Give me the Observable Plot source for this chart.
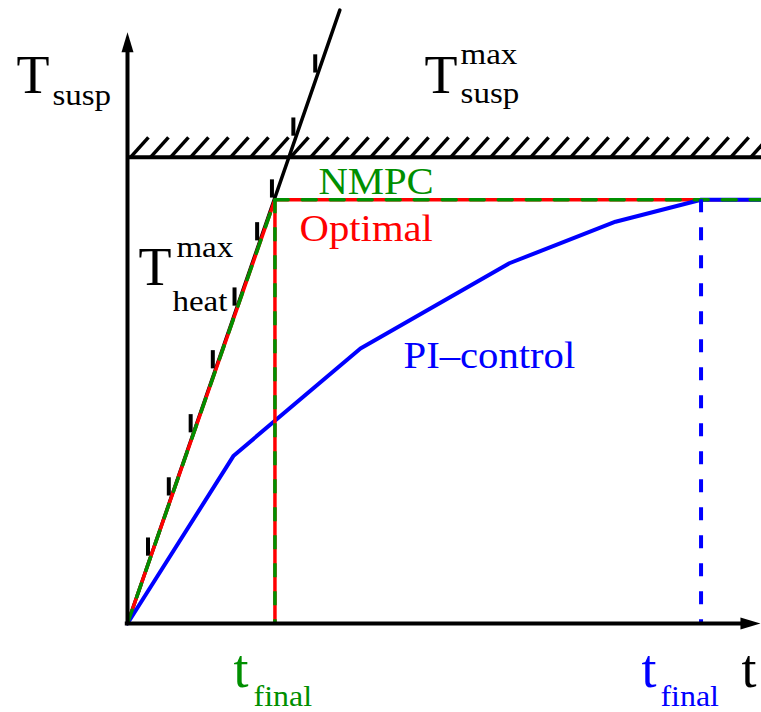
<!DOCTYPE html>
<html>
<head>
<meta charset="utf-8">
<script src="https://cdn.jsdelivr.net/npm/d3@7"></script>
<script src="https://cdn.jsdelivr.net/npm/@observablehq/plot@0.6"></script>
<style>
  body { margin: 0; background: #fff; }
</style>
</head>
<body>
<div id="chart"></div>
<script>
// Time (arbitrary units) and suspension temperature (relative units)
const tEnd = 43;
const tFinalNMPC = 10;
const tFinalPI = 38.9;
const tempTarget = 100;
const tempSuspMax = 110;
const heatRate = 10.05;        // slope of the maximum heating limit T_heat^max
const heatLineEnd = 14.4;

// NMPC and optimal trajectories coincide
const nmpcTimes = [0, tFinalNMPC, tEnd];
const nmpcTemps = [0, tempTarget, tempTarget];

// PI-control trajectory
const piTimes = [0, 7.2, 15.8, 25.9, 33.1, tFinalPI, tEnd];
const piTemps = [0, 39.6, 64.9, 85.0, 94.8, tempTarget, tempTarget];

// Marks along the heating limit (temperature where each mark meets the line)
const heatMarkTemps = [16.0, 30.2, 45.1, 60.2, 75.0, 90.4, 100.5, 115.1, 130.0];

const nmpc = nmpcTimes.map((t, i) => ({t, temp: nmpcTemps[i]}));
const pi = piTimes.map((t, i) => ({t, temp: piTemps[i]}));
const heatLine = [0, heatLineEnd].map(t => ({t, temp: heatRate * t}));

const ink = "#000";
const green = "#008f00";
const serif = "Liberation Serif, Times New Roman, serif";

// filled arrowhead pointing up, tip at the anchor point
const arrowHead = {
  draw(ctx) {
    ctx.moveTo(0, 0);
    ctx.lineTo(-6, 20);
    ctx.lineTo(6, 20);
    ctx.closePath();
  }
};

const label = (str, x, y, fontSize, fill = ink) =>
  Plot.text([str], {
    x, y, text: d => d, fontSize, fill,
    fontFamily: serif, textAnchor: "start", lineAnchor: "bottom"
  });

const hatchStarts = d3.range(0.2, tEnd, 1.357);

const chart = Plot.plot({
  width: 761,
  height: 712,
  marginLeft: 127,
  marginRight: 0,
  marginTop: 0,
  marginBottom: 89,
  x: {domain: [0, tEnd], axis: null},
  y: {domain: [0, 147], axis: null},
  style: {background: "#fff", overflow: "visible"},
  marks: [
    // upper suspension temperature limit, hatched on the forbidden side
    Plot.ruleY([tempSuspMax], {x1: 0, x2: tEnd, stroke: ink, strokeWidth: 4}),
    Plot.link(hatchStarts, {
      x1: d => d, y1: () => tempSuspMax,
      x2: d => d + 1.22, y2: () => tempSuspMax + 4.72,
      stroke: ink, strokeWidth: 3.5
    }),
    // maximum heating rate limit with its marks
    Plot.line(heatLine, {x: "t", y: "temp", stroke: ink, strokeWidth: 3.5}),
    Plot.link(heatMarkTemps, {
      x1: d => d / heatRate, y1: d => d,
      x2: d => d / heatRate, y2: d => d + 4.3,
      dx: -3, stroke: ink, strokeWidth: 4
    }),
    // optimal trajectory (red, under the NMPC dashes)
    Plot.line(nmpc, {x: "t", y: "temp", stroke: "red", strokeWidth: 3.5}),
    // PI-control trajectory
    Plot.line(pi, {x: "t", y: "temp", stroke: "blue", strokeWidth: 4}),
    // final time of NMPC / optimal
    Plot.ruleX([tFinalNMPC], {y1: tempTarget, y2: 0, stroke: "red", strokeWidth: 3.5}),
    Plot.ruleX([tFinalNMPC], {y1: tempTarget, y2: 0, stroke: green, strokeWidth: 3.5, strokeDasharray: "14,14"}),
    // NMPC trajectory (green dashes)
    Plot.line(nmpc, {x: "t", y: "temp", stroke: green, strokeWidth: 3.5, strokeDasharray: "14,14"}),
    // final time of PI-control
    Plot.ruleX([tFinalPI], {y1: tempTarget, y2: 0, stroke: "blue", strokeWidth: 4, strokeDasharray: "13,15"}),
    // axes with arrowheads
    Plot.ruleX([0], {y1: -0.5, y2: 135.5, stroke: ink, strokeWidth: 4}),
    Plot.ruleY([0], {x1: -0.15, x2: 42, stroke: ink, strokeWidth: 4}),
    Plot.dot([{t: 0, temp: 139.5, rot: 0}, {t: 42.93, temp: 0, rot: 90}], {
      x: "t", y: "temp", rotate: "rot", symbol: arrowHead, r: 5, fill: ink, stroke: "none"
    }),
    // axis titles
    label("T", -7.53, 125.06, 54),
    label("susp", -5.09, 122.46, 30),
    label("t", 41.64, -14.87, 54),
    // limits
    label("T", 20.14, 125.06, 54),
    label("max", 22.59, 131.9, 30),
    label("susp", 22.59, 122.93, 30),
    label("T", 0.75, 79.76, 54),
    label("max", 3.32, 86.36, 30),
    label("heat", 3.05, 73.81, 30),
    // trajectory names
    label("NMPC", 12.95, 101.46, 37, green),
    label("Optimal", 11.67, 90.37, 37, "red"),
    label("PI\u2013control", 18.72, 60.17, 37, "blue"),
    // final times
    label("t", 7.19, -14.87, 54, green),
    label("final", 8.55, -19.35, 29, green),
    label("t", 34.86, -14.87, 54, "blue"),
    label("final", 36.15, -19.35, 29, "blue")
  ]
});

// the serif labels are set slightly wide
d3.select(chart).selectAll("text")
  .filter(function () { return this.textContent !== "T" && this.textContent !== "t"; })
  .attr("transform", function () { return (this.getAttribute("transform") || "") + " scale(1.1,1)"; });

document.getElementById("chart").appendChild(chart);
</script>
</body>
</html>
